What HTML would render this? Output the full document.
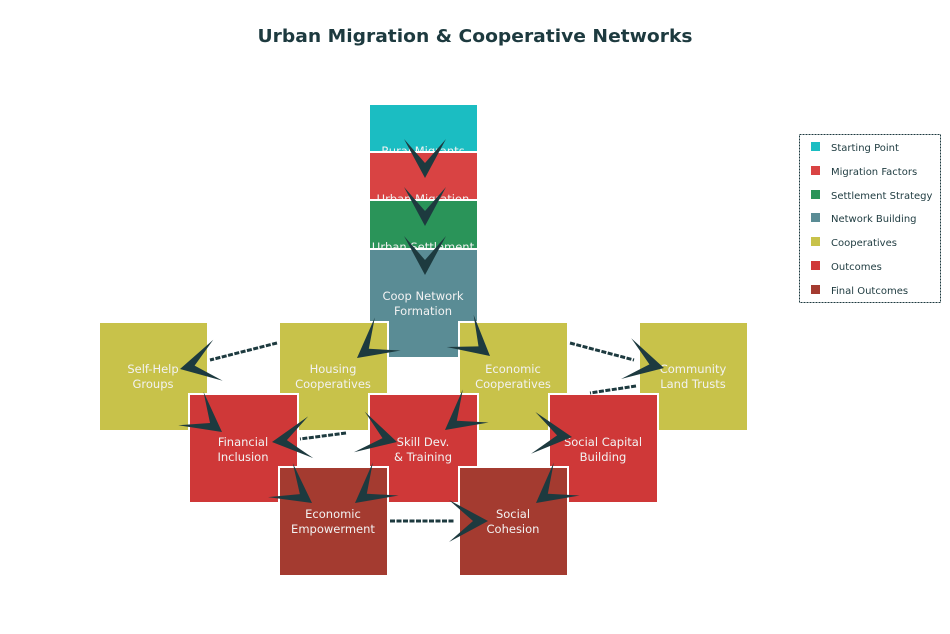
<!DOCTYPE html>
<html><head><meta charset="utf-8">
<style>
html,body{margin:0;padding:0;background:#fff;}
svg{display:block;font-family:"DejaVu Sans","Liberation Sans",sans-serif;}
</style></head>
<body>
<svg width="950" height="634" viewBox="0 0 950 634" xmlns="http://www.w3.org/2000/svg">
<defs>
<g id="ah"><polygon points="0,0 -39,-21 -15,0 -39,21" fill="#1d3a3f"/></g>
</defs>
<text x="475" y="42" text-anchor="middle" font-size="18" font-weight="bold" fill="#1d3a3f" textLength="435" lengthAdjust="spacingAndGlyphs">Urban Migration &amp; Cooperative Networks</text>

<g stroke="#fff" stroke-width="2" font-size="11.5" fill="#f2f2f2">
<rect x="369" y="104" width="109" height="109" fill="#1bbdc2"/>
<text x="423" y="155" text-anchor="middle" stroke="none" fill="#f2f2f2">Rural Migrants</text>
<rect x="369" y="152" width="109" height="109" fill="#d94343"/>
<text x="423" y="203" text-anchor="middle" stroke="none" fill="#f2f2f2">Urban Migration</text>
<rect x="369" y="200" width="109" height="109" fill="#2a9459"/>
<text x="423" y="251" text-anchor="middle" stroke="none" fill="#f2f2f2">Urban Settlement</text>
<rect x="369" y="249" width="109" height="109" fill="#5a8c95"/>
<text x="423" y="300" text-anchor="middle" stroke="none" fill="#f2f2f2">Coop Network</text>
<text x="423" y="315" text-anchor="middle" stroke="none" fill="#f2f2f2">Formation</text>

<rect x="99" y="322" width="109" height="109" fill="#c8c24a"/>
<text x="153" y="373" text-anchor="middle" stroke="none" fill="#f2f2f2">Self-Help</text>
<text x="153" y="388" text-anchor="middle" stroke="none" fill="#f2f2f2">Groups</text>
<rect x="279" y="322" width="109" height="109" fill="#c8c24a"/>
<text x="333" y="373" text-anchor="middle" stroke="none" fill="#f2f2f2">Housing</text>
<text x="333" y="388" text-anchor="middle" stroke="none" fill="#f2f2f2">Cooperatives</text>
<rect x="459" y="322" width="109" height="109" fill="#c8c24a"/>
<text x="513" y="373" text-anchor="middle" stroke="none" fill="#f2f2f2">Economic</text>
<text x="513" y="388" text-anchor="middle" stroke="none" fill="#f2f2f2">Cooperatives</text>
<rect x="639" y="322" width="109" height="109" fill="#c8c24a"/>
<text x="693" y="373" text-anchor="middle" stroke="none" fill="#f2f2f2">Community</text>
<text x="693" y="388" text-anchor="middle" stroke="none" fill="#f2f2f2">Land Trusts</text>

<rect x="189" y="394" width="109" height="109" fill="#cf3838"/>
<text x="243" y="446" text-anchor="middle" stroke="none" fill="#f2f2f2">Financial</text>
<text x="243" y="461" text-anchor="middle" stroke="none" fill="#f2f2f2">Inclusion</text>
<rect x="369" y="394" width="109" height="109" fill="#cf3838"/>
<text x="423" y="446" text-anchor="middle" stroke="none" fill="#f2f2f2">Skill Dev.</text>
<text x="423" y="461" text-anchor="middle" stroke="none" fill="#f2f2f2">&amp; Training</text>
<rect x="549" y="394" width="109" height="109" fill="#cf3838"/>
<text x="603" y="446" text-anchor="middle" stroke="none" fill="#f2f2f2">Social Capital</text>
<text x="603" y="461" text-anchor="middle" stroke="none" fill="#f2f2f2">Building</text>

<rect x="279" y="467" width="109" height="109" fill="#a43b30"/>
<text x="333" y="518" text-anchor="middle" stroke="none" fill="#f2f2f2">Economic</text>
<text x="333" y="533" text-anchor="middle" stroke="none" fill="#f2f2f2">Empowerment</text>
<rect x="459" y="467" width="109" height="109" fill="#a43b30"/>
<text x="513" y="518" text-anchor="middle" stroke="none" fill="#f2f2f2">Social</text>
<text x="513" y="533" text-anchor="middle" stroke="none" fill="#f2f2f2">Cohesion</text>
</g>

<g stroke="#1d3a3f" stroke-width="3" stroke-dasharray="5,1.5" fill="none">
<line x1="277" y1="343" x2="210" y2="360"/>
<line x1="570" y1="343" x2="634" y2="360"/>
<line x1="636" y1="386" x2="590" y2="393"/>
<line x1="346" y1="433" x2="300" y2="439"/>
<line x1="390" y1="521" x2="455" y2="521"/>
</g>

<use href="#ah" transform="translate(425,178) rotate(90)"/>
<use href="#ah" transform="translate(425,226) rotate(90)"/>
<use href="#ah" transform="translate(425,275) rotate(90)"/>
<use href="#ah" transform="translate(357,358) rotate(142)"/>
<use href="#ah" transform="translate(490,356) rotate(40)"/>
<use href="#ah" transform="translate(180,369) rotate(167)"/>
<use href="#ah" transform="translate(664,368) rotate(14)"/>
<use href="#ah" transform="translate(222,432) rotate(37)"/>
<use href="#ah" transform="translate(397,442) rotate(15)"/>
<use href="#ah" transform="translate(445,430) rotate(142)"/>
<use href="#ah" transform="translate(272,442) rotate(173)"/>
<use href="#ah" transform="translate(312,503) rotate(36)"/>
<use href="#ah" transform="translate(355,503) rotate(142)"/>
<use href="#ah" transform="translate(488,521) rotate(0)"/>
<use href="#ah" transform="translate(572,437) rotate(6)"/>
<use href="#ah" transform="translate(536,503) rotate(142)"/>

<rect x="799.5" y="134.5" width="141" height="168" fill="#fff" stroke="#1d3a3f" stroke-width="1" stroke-dasharray="2,1"/>
<g font-size="10" fill="#1d3a3f">
<rect x="811" y="142" width="9" height="9" fill="#1bbdc2"/><text x="831" y="151">Starting Point</text>
<rect x="811" y="166" width="9" height="9" fill="#d94343"/><text x="831" y="175">Migration Factors</text>
<rect x="811" y="190" width="9" height="9" fill="#2a9459"/><text x="831" y="199">Settlement Strategy</text>
<rect x="811" y="213" width="9" height="9" fill="#5a8c95"/><text x="831" y="222">Network Building</text>
<rect x="811" y="237" width="9" height="9" fill="#c8c24a"/><text x="831" y="246">Cooperatives</text>
<rect x="811" y="261" width="9" height="9" fill="#cf3838"/><text x="831" y="270">Outcomes</text>
<rect x="811" y="285" width="9" height="9" fill="#a43b30"/><text x="831" y="294">Final Outcomes</text>
</g>
</svg>
</body></html>
